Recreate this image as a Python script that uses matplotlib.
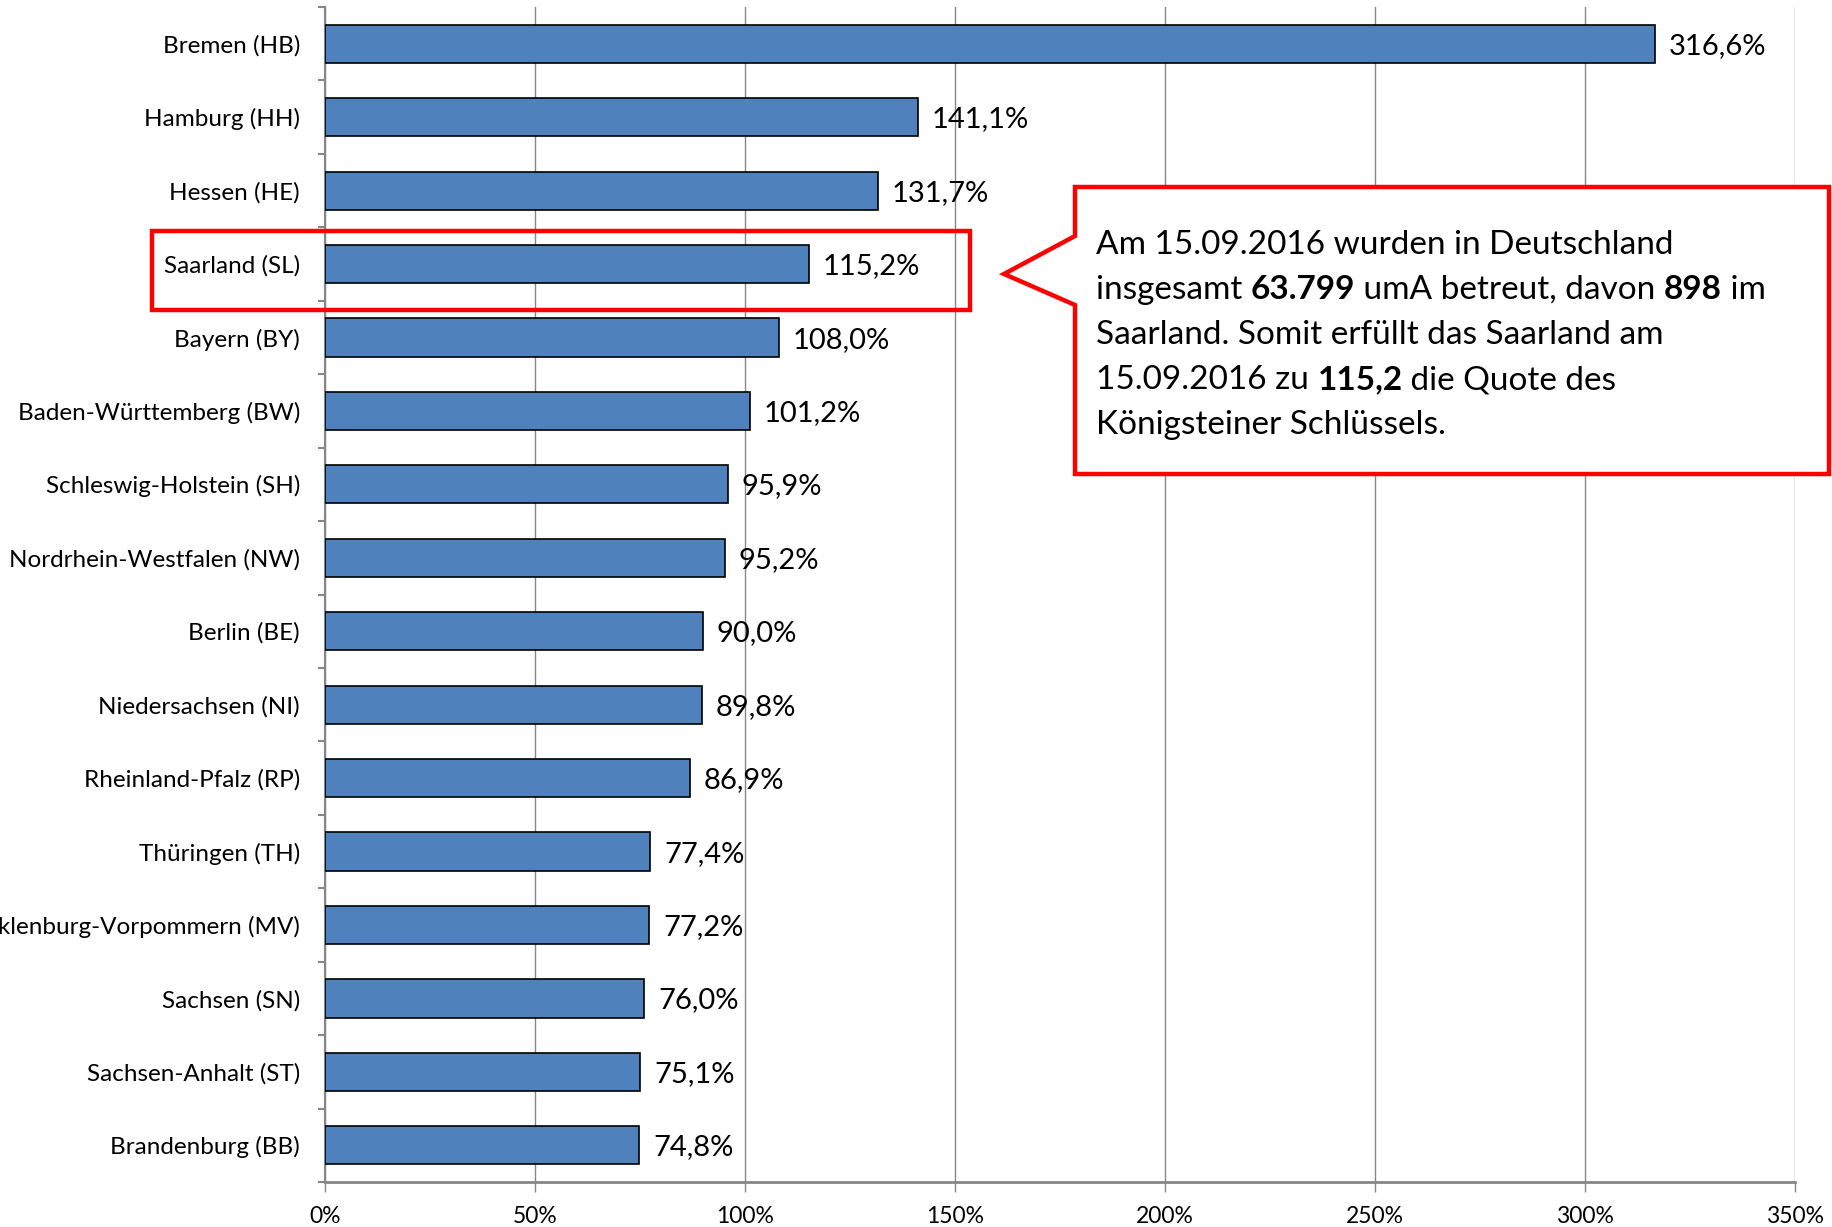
import numpy as np
import matplotlib
matplotlib.use('Agg')
from matplotlib import pyplot as plt
from matplotlib.patches import Polygon, Rectangle

plt.rcParams['font.family'] = ['Lato', 'DejaVu Sans']

laender = ['Bremen (HB)', 'Hamburg (HH)', 'Hessen (HE)', 'Saarland (SL)', 'Bayern (BY)',
           'Baden-Württemberg (BW)', 'Schleswig-Holstein (SH)', 'Nordrhein-Westfalen (NW)',
           'Berlin (BE)', 'Niedersachsen (NI)', 'Rheinland-Pfalz (RP)', 'Thüringen (TH)',
           'Mecklenburg-Vorpommern (MV)', 'Sachsen (SN)', 'Sachsen-Anhalt (ST)', 'Brandenburg (BB)']
quote = [316.6, 141.1, 131.7, 115.2, 108.0, 101.2, 95.9, 95.2,
         90.0, 89.8, 86.9, 77.4, 77.2, 76.0, 75.1, 74.8]
x_ticks = [0, 50, 100, 150, 200, 250, 300, 350]

callout_lines = [
    [('Am 15.09.2016 wurden in Deutschland', False)],
    [('insgesamt ', False), ('63.799', True), (' umA betreut, davon ', False), ('898', True), (' im', False)],
    [('Saarland. Somit erfüllt das Saarland am', False)],
    [('15.09.2016 zu ', False), ('115,2', True), (' die Quote des', False)],
    [('Königsteiner Schlüssels.', False)],
]

W, H = 1833, 1227
fig = plt.figure(figsize=(W / 100, H / 100), dpi=100)
ax = fig.add_axes([325 / W, 1 - 1182 / H, 1470 / W, 1175 / H])

y = np.arange(len(laender))
ax.barh(y, quote, height=0.52, color='#4F81BD', edgecolor='black', linewidth=1.2, zorder=3)
for yi, v in zip(y, quote):
    ax.annotate(('%.1f%%' % v).replace('.', ','), (v, yi), xytext=(10, -1.5),
                textcoords='offset points', va='center', ha='left', fontsize=21)

ax.set_xlim(0, 350)
ax.set_ylim(len(laender) - 0.5, -0.5)
ax.set_xticks(x_ticks)
ax.set_xticklabels(['%d%%' % t for t in x_ticks], fontsize=16.5)
ax.set_yticks(y)
ax.set_yticklabels(laender, fontsize=17.5)
ax.set_yticks(np.arange(len(laender) + 1) - 0.5, minor=True)
ax.tick_params(axis='y', which='major', length=0, pad=18)
ax.tick_params(axis='y', which='minor', length=5, width=1.5, color='#868686')
ax.tick_params(axis='x', length=7, width=1, color='#868686', pad=10)
ax.grid(axis='x', color='#868686', linewidth=1.0, zorder=0)
for s in ['top', 'right']:
    ax.spines[s].set_visible(False)
ax.spines['left'].set_color('#868686')
ax.spines['left'].set_linewidth(1.5)
ax.spines['bottom'].set_color('#868686')
ax.spines['bottom'].set_linewidth(2)


def px(x, y):
    return (x / W, 1 - y / H)


# Saarland highlight
fig.add_artist(Rectangle(px(152, 310), (970 - 152) / W, (310 - 231) / H, transform=fig.transFigure,
                         fill=False, edgecolor='#FF0000', linewidth=3.2, zorder=10))

# callout
pts = [px(1075, 187), px(1829, 187), px(1829, 474), px(1075, 474), px(1075, 305),
       px(1004, 274), px(1075, 236)]
fig.add_artist(Polygon(pts, closed=True, transform=fig.transFigure, facecolor='white',
                       edgecolor='#FF0000', linewidth=3.2, joinstyle='miter', zorder=10))

fig.canvas.draw()
renderer = fig.canvas.get_renderer()
base_y = 254
for line in callout_lines:
    x = 1096
    for txt, bold in line:
        t = fig.text(*px(x, base_y), txt, fontsize=24, weight='bold' if bold else 'normal',
                     va='baseline', ha='left', zorder=11)
        x += t.get_window_extent(renderer).width
    base_y += 45

fig.savefig('out.png', dpi=100)
